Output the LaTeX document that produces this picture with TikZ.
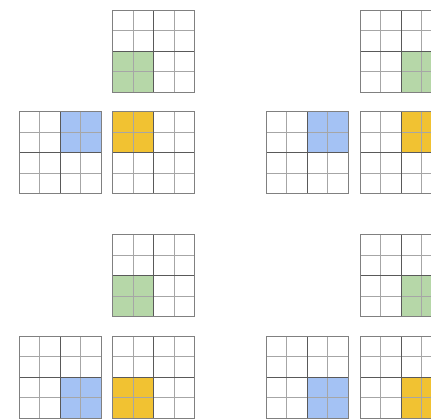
\documentclass[tikz,border=0pt]{standalone}
\usepackage{xcolor}
\usepackage{tikz}

\definecolor{gridgreen}{HTML}{B6D7A8}
\definecolor{gridblue}{HTML}{A4C2F4}
\definecolor{gridyellow}{HTML}{F1C232}

\tikzset{
    cellline/.style={draw=black!35, line width=0.9pt},
    midline/.style={draw=black!65, line width=0.9pt},
    edgeline/.style={draw=black!50, line width=0.9pt}
}

% 4x4 grid at (#1,#2) with a 2x2 block of colour #5 at column #3, row #4
\newcommand{\blockgrid}[5]{
    \begin{scope}[shift={(#1,#2)}, x=20.5pt, y=-20.5pt]
        \fill[#5] (#3,#4) rectangle ++(2,2);
        \foreach \k in {1,3} {
            \draw[cellline] (\k,0) -- (\k,4);
            \draw[cellline] (0,\k) -- (4,\k);
        }
        \draw[midline] (2,0) -- (2,4) (0,2) -- (4,2);
        \draw[edgeline] (0,0) rectangle (4,4);
    \end{scope}
}

\begin{document}
\begin{tikzpicture}[x=1pt, y=-1pt]
    \useasboundingbox (0,0) rectangle (431,418);
    \clip (0,0) rectangle (431,418);
    \fill[white] (0,0) rectangle (431,418);
    % top left
    \blockgrid{112.7}{10.3}{0}{2}{gridgreen}
    \blockgrid{19}{111.7}{2}{0}{gridblue}
    \blockgrid{112.7}{111.7}{0}{0}{gridyellow}
    % top right
    \blockgrid{360}{10.3}{2}{2}{gridgreen}
    \blockgrid{266.3}{111.7}{2}{0}{gridblue}
    \blockgrid{360}{111.7}{2}{0}{gridyellow}
    % bottom left
    \blockgrid{112.7}{234.8}{0}{2}{gridgreen}
    \blockgrid{19}{336.2}{2}{2}{gridblue}
    \blockgrid{112.7}{336.2}{0}{2}{gridyellow}
    % bottom right
    \blockgrid{360}{234.8}{2}{2}{gridgreen}
    \blockgrid{266.3}{336.2}{2}{2}{gridblue}
    \blockgrid{360}{336.2}{2}{2}{gridyellow}
\end{tikzpicture}
\end{document}
